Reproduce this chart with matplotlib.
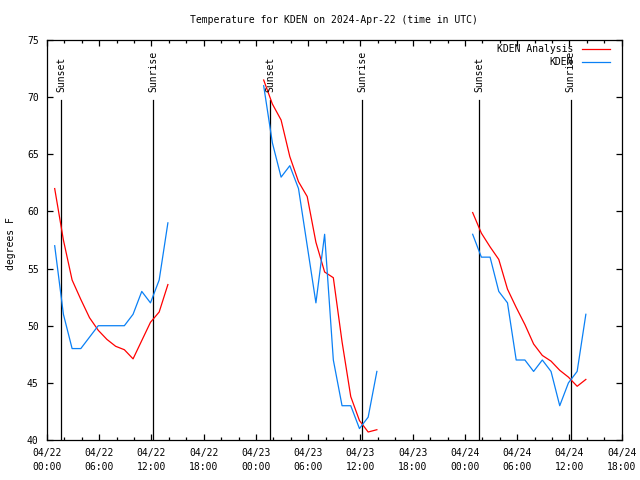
import matplotlib
matplotlib.use("Agg")
import matplotlib.pyplot as plt
import matplotlib.dates as mdates
import matplotlib.transforms as mtransforms
from matplotlib.lines import Line2D
import pandas as pd

# ---- data ----
day_starts = ["2024-04-22 00:53", "2024-04-23 00:53", "2024-04-24 00:53"]

analysis_day1 = [62.0, 57.5, 54.0, 52.3, 50.7, 49.6, 48.8, 48.2, 47.9, 47.1, 48.7, 50.3, 51.2, 53.6]
analysis_day2 = [71.5, 69.4, 68.0, 64.8, 62.6, 61.3, 57.3, 54.7, 54.2, 48.6, 43.8, 41.7, 40.7, 40.9]
analysis_day3 = [59.9, 58.1, 56.9, 55.8, 53.2, 51.6, 50.1, 48.4, 47.4, 46.9, 46.1, 45.5, 44.7, 45.3]

obs_day1 = [57, 51, 48, 48, 49, 50, 50, 50, 50, 51, 53, 52, 54, 59]
obs_day2 = [71, 66, 63, 64, 62, 57, 52, 58, 47, 43, 43, 41, 42, 46]
obs_day3 = [58, 56, 56, 53, 52, 47, 47, 46, 47, 46, 43, 45, 46, 51]

sunset_times = ["2024-04-22 01:37", "2024-04-23 01:38", "2024-04-24 01:39"]
sunrise_times = ["2024-04-22 12:11", "2024-04-23 12:10", "2024-04-24 12:08"]

x_start, x_end = "2024-04-22 00:00", "2024-04-24 18:00"
y_ticks = [40, 45, 50, 55, 60, 65, 70, 75]

title = "Temperature for KDEN on 2024-Apr-22 (time in UTC)"
ylabel = "degrees F"
label_analysis = "KDEN Analysis"
label_obs = "KDEN"

red = "#ff0000"
blue = "#0a80f5"

plt.rcParams['font.family'] = ['DejaVu Sans Mono']
plt.rcParams['font.size'] = 7

fig = plt.figure(figsize=(6.4, 4.8), dpi=100)
ax = fig.add_axes([47 / 640, 40 / 480, 574.7 / 640, 400 / 480])

blend = mtransforms.blended_transform_factory(ax.transData, ax.transAxes)

for t in sunset_times:
    tt = pd.Timestamp(t)
    ax.plot([tt, tt], [0, 0.85], color="black", lw=0.9, transform=blend, zorder=1)
    ax.text(tt, 0.87, "Sunset", transform=blend, rotation=90, ha="center", va="bottom")
for t in sunrise_times:
    tt = pd.Timestamp(t)
    ax.plot([tt, tt], [0, 0.85], color="black", lw=0.9, transform=blend, zorder=1)
    ax.text(tt, 0.87, "Sunrise", transform=blend, rotation=90, ha="center", va="bottom")

for start, vals in zip(day_starts, [analysis_day1, analysis_day2, analysis_day3]):
    times = pd.date_range(start, periods=len(vals), freq="h")
    ax.plot(times, vals, color=red, lw=0.9, zorder=2)
for start, vals in zip(day_starts, [obs_day1, obs_day2, obs_day3]):
    times = pd.date_range(start, periods=len(vals), freq="h")
    ax.plot(times, vals, color=blue, lw=0.9, zorder=3)

ax.set_xlim(pd.Timestamp(x_start), pd.Timestamp(x_end))
ax.set_ylim(y_ticks[0], y_ticks[-1])
ax.set_yticks(y_ticks)

ax.xaxis.set_major_locator(mdates.HourLocator(byhour=[0, 6, 12, 18]))
ax.xaxis.set_minor_locator(mdates.HourLocator(byhour=range(0, 24, 2)))
ax.xaxis.set_major_formatter(mdates.DateFormatter("%m/%d\n%H:%M"))

ax.tick_params(axis="both", which="both", direction="in", top=True, right=True, width=0.9)
ax.tick_params(axis="both", which="major", length=4.2)
ax.tick_params(axis="x", which="minor", length=2.4)
ax.tick_params(axis="x", which="major", pad=6)
ax.tick_params(axis="y", which="major", pad=6)
for s in ax.spines.values():
    s.set_linewidth(0.9)

# legend (manual, gnuplot style: text right-aligned, sample to the right)
ax.text(0.9158, 0.9775, label_analysis, transform=ax.transAxes, ha="right", va="center")
ax.text(0.9158, 0.945, label_obs, transform=ax.transAxes, ha="right", va="center")
ax.add_line(Line2D([0.9304, 0.9797], [0.9775, 0.9775], color=red, lw=0.9, transform=ax.transAxes))
ax.add_line(Line2D([0.9304, 0.9797], [0.945, 0.945], color=blue, lw=0.9, transform=ax.transAxes))

fig.text(334 / 640, 1 - 20 / 480, title, ha="center", va="center")
fig.text(10.8 / 640, 1 - 244 / 480, ylabel, rotation=90, ha="center", va="center")

fig.canvas.draw()
for tk in ax.xaxis.get_major_ticks():
    tk.label1.set_linespacing(1.45)

fig.savefig("out.png", dpi=100)
